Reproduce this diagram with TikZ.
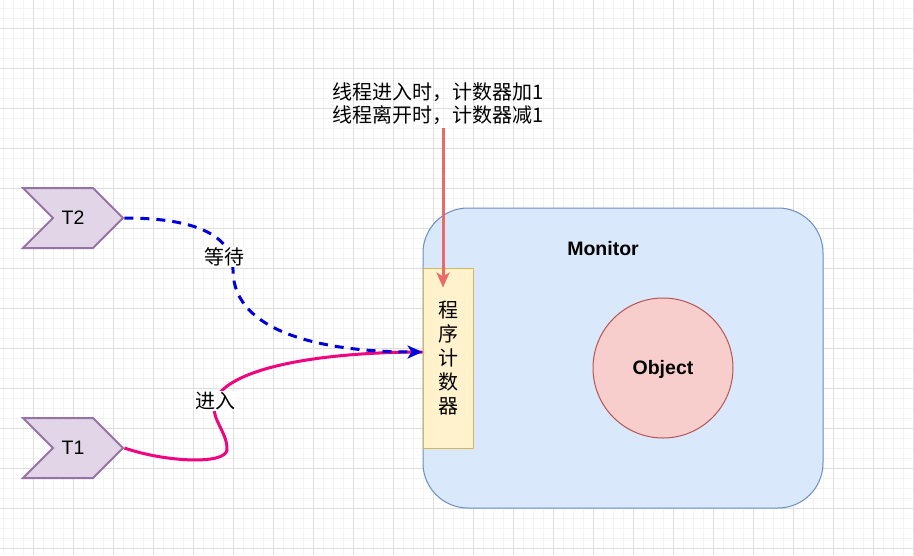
\documentclass[tikz,border=0pt]{standalone}
\usepackage{fontspec}
\setmainfont{Liberation Sans}
\newfontfamily\cjk{Noto Sans CJK SC}
\usetikzlibrary{shapes.symbols,arrows.meta}

\definecolor{gridlo}{HTML}{F3F3F3}
\definecolor{gridhi}{HTML}{DEDEDE}
\definecolor{monfill}{HTML}{DAE8FC}
\definecolor{mondraw}{HTML}{6C8EBF}
\definecolor{ctrfill}{HTML}{FFF2CC}
\definecolor{ctrdraw}{HTML}{D6B656}
\definecolor{objfill}{HTML}{F8CECC}
\definecolor{objdraw}{HTML}{B85450}
\definecolor{thfill}{HTML}{E1D5E7}
\definecolor{thdraw}{HTML}{9673A6}
\definecolor{waitblue}{HTML}{0000DD}
\definecolor{enterpink}{HTML}{F0047F}
\definecolor{notered}{HTML}{EA6B66}

\begin{document}
\begin{tikzpicture}
	[x=1pt,y=-1pt,
	 txt/.style={font=\fontsize{19.5}{23}\selectfont},
	 cjktxt/.style={font=\cjk\fontsize{20}{23}\selectfont},
	 thread/.style={signal,signal from=west,signal to=east,signal pointer angle=90,
	   draw=thdraw,fill=thfill,line width=2pt,minimum width=100pt,minimum height=60pt,inner sep=0pt,txt},
	 lbl/.style={cjktxt,fill=white,inner sep=1pt},
	 tip/.style={-{Stealth[length=15pt,width=13pt,inset=4pt]}}]

	\useasboundingbox (0,0) rectangle (914,555);
	\fill[white] (0,0) rectangle (914,555);

	% grid
	\foreach \ii in {3,13,...,913}
	{
	 \draw[gridlo,line width=1pt] (\ii,0)--++(0,555);
	}
	\foreach \jj in {8,18,...,548}
	{
	 \draw[gridlo,line width=1pt] (0,\jj)--++(914,0);
	}
	\foreach \ii in {33,73,...,913}
	{
	 \draw[gridhi,line width=1pt] (\ii,0)--++(0,555);
	}
	\foreach \jj in {28,68,...,548}
	{
	 \draw[gridhi,line width=1pt] (0,\jj)--++(914,0);
	}

	% monitor
	\node[draw=mondraw,fill=monfill,line width=1pt,rounded corners=45pt,
	  minimum width=400pt,minimum height=300pt] (mon) at (623,358) {};
	\node[txt,font=\fontsize{19.5}{23}\selectfont\bfseries] (montxt) at (603,249) {Monitor};
	\node[draw=objdraw,fill=objfill,line width=1pt,circle,minimum size=140pt,
	  txt,font=\fontsize{19.5}{23}\selectfont\bfseries,text depth=1pt] (obj) at (663,368) {Object};
	\node[draw=ctrdraw,fill=ctrfill,line width=1pt,minimum width=50pt,minimum height=180pt,
	  cjktxt,font=\cjk\fontsize{20}{24}\selectfont,align=center] (ctr) at (448,358) {程\\序\\计\\数\\器};

	% threads
	\node[thread] (t2) at (73,218) {T2};
	\node[thread] (t1) at (73,448) {T1};

	\draw[enterpink,line width=3pt] (t1.east) .. controls (165,462) and (225,465) .. (227,450)
	  .. controls (228,430) and (205,415) .. (218,395)
	  .. controls (240,365) and (330,352) .. ([yshift=6pt]ctr.west);
	\draw[waitblue,line width=3pt,dash pattern=on 9pt off 7pt,tip] (t2.east) .. controls (170,218) and (233,225) .. (233,270)
	  .. controls (233,335) and (330,352) .. ([yshift=6pt]ctr.west);

	\node[lbl] (wait) at (224,257) {等待};
	\node[lbl] (enter) at (215,401) {进入};

	% counter note
	\node[cjktxt,align=center,inner sep=3pt] (note) at (438,103.5) {线程进入时，计数器加1\\线程离开时，计数器减1};
	\draw[notered,line width=3pt,tip] ([xshift=5pt]note.south) -- ([xshift=-5pt,yshift=-20pt]ctr.north);

\end{tikzpicture}
\end{document}
